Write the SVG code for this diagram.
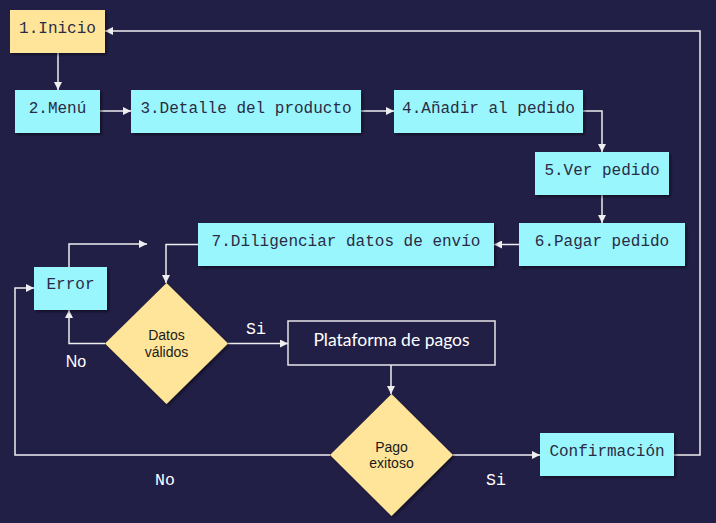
<svg xmlns="http://www.w3.org/2000/svg" width="716" height="523" viewBox="0 0 716 523">
<style>
.bg{fill:#221F47}
.cy{fill:#99F6FC;filter:url(#sh)}
.yl{fill:#FFE599;filter:url(#sh)}
.pl{fill:none;stroke:#E6E6E6;stroke-width:1.5}
.t{font-family:"Liberation Mono",monospace;font-size:16px;fill:#2B2B45;text-anchor:middle}
.d{font-family:"Liberation Sans",Arial,sans-serif;font-size:14px;fill:#1A1A1A;text-anchor:middle}
.w{font-family:Lato,"Liberation Sans",sans-serif;font-size:17.5px;fill:#FFFFFF;text-anchor:middle}
.lm{font-family:"Liberation Mono",monospace;font-size:16.5px;fill:#FFFFFF;text-anchor:middle}
.ls{font-family:"Liberation Sans",Arial,sans-serif;font-size:16px;fill:#FFFFFF;text-anchor:middle}
.c{fill:none;stroke:#EEEEEE;stroke-width:1.5}
</style>
<defs>
<filter id="sh" x="-10%" y="-10%" width="130%" height="140%">
<feDropShadow dx="2" dy="2" stdDeviation="1.5" flood-color="#000" flood-opacity="0.45"/>
</filter>
<marker id="a" viewBox="0 0 10 10" refX="10" refY="5" markerWidth="8" markerHeight="8" markerUnits="userSpaceOnUse" orient="auto">
<path d="M0,0 L10,5 L0,10 z" fill="#EEEEEE"/>
</marker>
</defs>
<rect class="bg" x="0" y="0" width="716" height="523"/>

<g id="connectors">
<path class="c" d="M58,53 V90" marker-end="url(#a)"/>
<path class="c" d="M100,111 H131" marker-end="url(#a)"/>
<path class="c" d="M361,111 H394" marker-end="url(#a)"/>
<path class="c" d="M583,111 H602 V152" marker-end="url(#a)"/>
<path class="c" d="M602,195 V223" marker-end="url(#a)"/>
<path class="c" d="M519,244.5 H494" marker-end="url(#a)"/>
<path class="c" d="M198,244.5 H166 V283" marker-end="url(#a)"/>
<path class="c" d="M69,267 V244 H147" marker-end="url(#a)"/>
<path class="c" d="M105,343.5 H69 V310" marker-end="url(#a)"/>
<path class="c" d="M228,343.5 H288" marker-end="url(#a)"/>
<path class="c" d="M391,365 V394" marker-end="url(#a)"/>
<path class="c" d="M330,455 H15 V288 H34" marker-end="url(#a)"/>
<path class="c" d="M453,455 H540" marker-end="url(#a)"/>
<path class="c" d="M674,455 H700 V31 H105" marker-end="url(#a)"/>
<text class="lm" x="256" y="334">Si</text>
<text class="ls" x="76" y="367">No</text>
<text class="lm" x="165" y="485">No</text>
<text class="lm" x="496" y="485">Si</text>
</g>

<g id="inicio"><rect class="yl" x="10" y="10" width="95" height="43"/><text class="t" x="57.5" y="33">1.Inicio</text></g>
<g id="menu"><rect class="cy" x="15" y="90" width="85" height="43"/><text class="t" x="57.5" y="113">2.Menú</text></g>
<g id="detalle"><rect class="cy" x="131" y="90" width="230" height="43"/><text class="t" x="246" y="113">3.Detalle del producto</text></g>
<g id="anadir"><rect class="cy" x="394" y="90" width="189" height="43"/><text class="t" x="488.5" y="113">4.Añadir al pedido</text></g>
<g id="ver"><rect class="cy" x="535" y="152" width="134" height="43"/><text class="t" x="602" y="175">5.Ver pedido</text></g>
<g id="pagar"><rect class="cy" x="519" y="223" width="166" height="43"/><text class="t" x="602" y="246">6.Pagar pedido</text></g>
<g id="diligenciar"><rect class="cy" x="198" y="223" width="296" height="43"/><text class="t" x="346" y="246">7.Diligenciar datos de envío</text></g>
<g id="error"><rect class="cy" x="34" y="267" width="73" height="43"/><text class="t" x="70.5" y="289">Error</text></g>
<g id="datos"><polygon class="yl" points="166.5,283 228,343.5 166.5,404 105,343.5"/><text class="d" x="166.5" y="340">Datos</text><text class="d" x="166.5" y="357">válidos</text></g>
<g id="plataforma"><rect class="pl" x="288" y="321" width="207" height="44"/><text class="w" x="391.5" y="346">Plataforma de pagos</text></g>
<g id="pago"><polygon class="yl" points="391.5,394 453,455 391.5,516 330,455"/><text class="d" x="391.5" y="452">Pago</text><text class="d" x="391.5" y="468">exitoso</text></g>
<g id="confirmacion"><rect class="cy" x="540" y="433" width="134" height="43"/><text class="t" x="607" y="456">Confirmación</text></g>
</svg>
